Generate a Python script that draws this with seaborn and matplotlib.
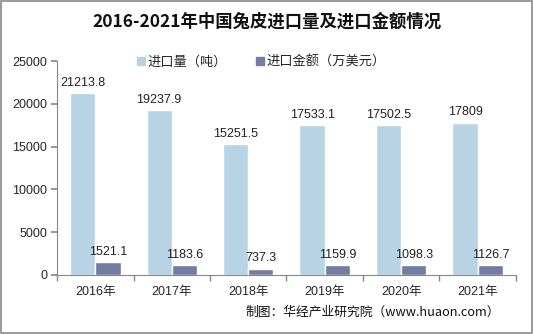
import matplotlib
matplotlib.use("Agg")
import matplotlib.pyplot as plt
import seaborn as sns
import pandas as pd
from matplotlib.patches import Rectangle

years = ["2016年", "2017年", "2018年", "2019年", "2020年", "2021年"]
volume = [21213.8, 19237.9, 15251.5, 17533.1, 17502.5, 17809]
amount = [1521.1, 1183.6, 737.3, 1159.9, 1098.3, 1126.7]
series_names = ["进口量（吨）", "进口金额（万美元）"]
colors = ["#B7D3E4", "#737CA2"]
y_ticks = [0, 5000, 10000, 15000, 20000, 25000]

sns.set_theme(style="white")
plt.rcParams["font.family"] = ["Noto Sans CJK SC", "DejaVu Sans"]

df = pd.DataFrame({
    "year": years * 2,
    "value": volume + amount,
    "series": [series_names[0]] * len(years) + [series_names[1]] * len(years),
})

fig = plt.figure(figsize=(5.33, 3.34), dpi=100)
ax = fig.add_axes([0.107, 0.177, 0.861, 0.64])

sns.barplot(data=df, x="year", y="value", hue="series", palette=colors,
            width=0.66, saturation=1, ax=ax, legend=False)

for container in ax.containers:
    labels = [f"{v:g}" for v in container.datavalues]
    ax.bar_label(container, labels=labels, padding=3, fontsize=9,
                 family=["Liberation Sans", "DejaVu Sans"], color="#222222")

ax.set_ylim(0, 25000)
ax.set_yticks(y_ticks)
ax.set_yticklabels([str(t) for t in y_ticks], family=["Liberation Sans"], fontsize=9)
ax.set_xlim(-0.5, len(years) - 0.5)
ax.set_xlabel("")
ax.set_ylabel("")
ax.tick_params(axis="x", labelsize=9, length=0, pad=8)
ax.tick_params(axis="y", length=4, color="#888888", direction="out", left=True, pad=3)
for lbl in ax.get_xticklabels():
    lbl.set_family(["Liberation Sans", "Noto Sans CJK SC"])
ax.set_xticks([i - 0.5 for i in range(len(years) + 1)], minor=True)
ax.tick_params(axis="x", which="minor", length=4, color="#888888", bottom=True)

for side in ["top", "right"]:
    ax.spines[side].set_visible(False)
for side in ["left", "bottom"]:
    ax.spines[side].set_color("#888888")
    ax.spines[side].set_linewidth(0.8)

handles = [Rectangle((0, 0), 1, 1, color=c) for c in colors]
fig.legend(handles, series_names, loc="center", bbox_to_anchor=(0.49, 0.815),
           ncol=2, frameon=False, fontsize=9.5, handlelength=0.6, handleheight=0.6,
           handletextpad=0.2, columnspacing=2.2)

fig.text(0.5, 0.935, "2016-2021年中国兔皮进口量及进口金额情况", ha="center", va="center",
         fontsize=12.5, fontweight="bold", color="#111111")
fig.text(0.46, 0.065, "制图：华经产业研究院（www.huaon.com）", ha="left", va="center",
         fontsize=9.2, color="#111111")

fig.add_artist(Rectangle((0.002, 0.003), 0.996, 0.994, transform=fig.transFigure,
                         fill=False, edgecolor="#8a8a8a", linewidth=1.2))

fig.savefig("out.png", dpi=100)
